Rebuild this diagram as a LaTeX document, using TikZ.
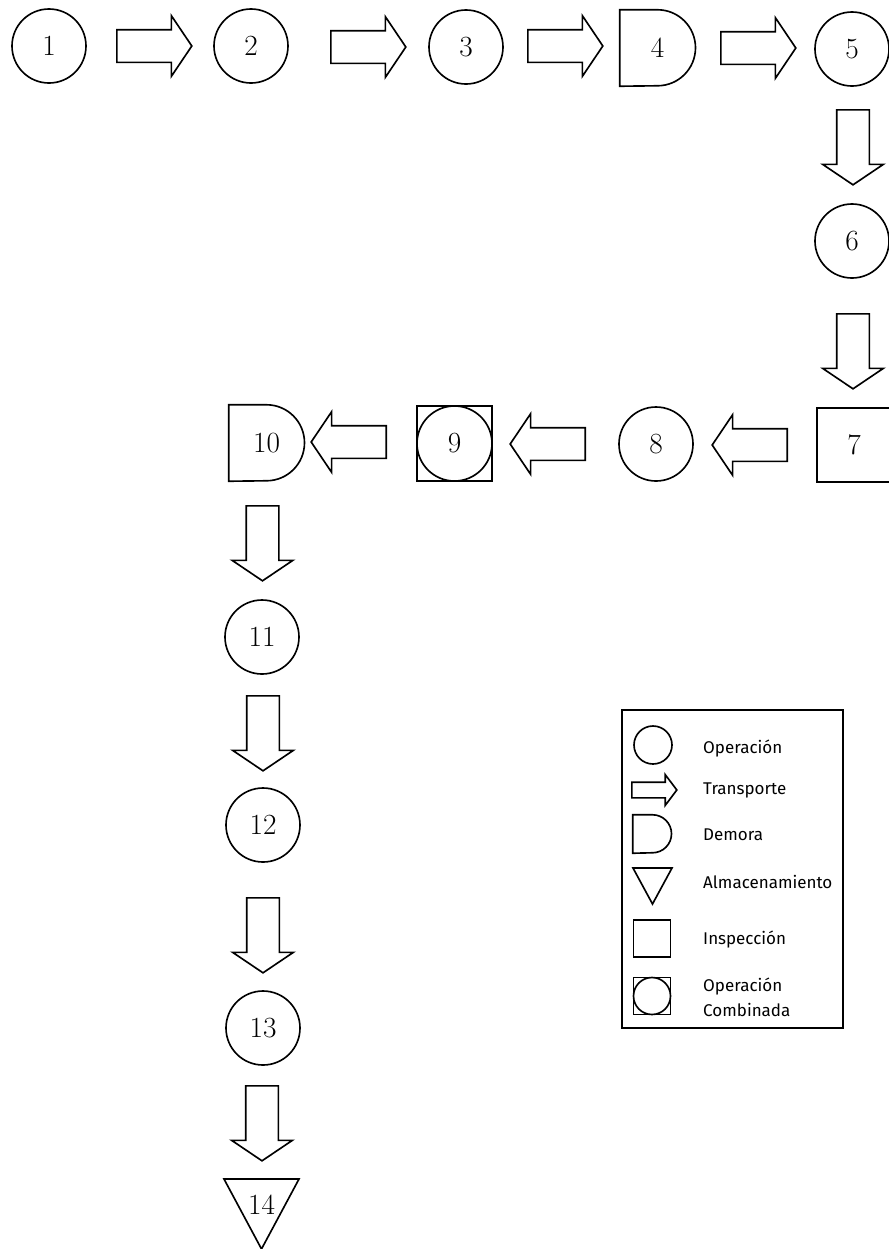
\documentclass[tikz,border=0pt]{standalone}
\usepackage{fontspec}
\newfontfamily\legfont{Fira Sans}
\usetikzlibrary{shapes.arrows,calc}
\newcommand{\pxu}{0.03cm}
\tikzstyle{base} = [draw, line width=1.4pt, inner sep=0pt, font=\fontsize{25}{27}\selectfont]
\tikzstyle{oper} = [base, circle, minimum size=74*\pxu]
\tikzstyle{insp} = [base, rectangle, minimum size=74*\pxu]
\tikzstyle{dbox} = [inner sep=0pt, minimum width=75*\pxu, minimum height=76*\pxu, font=\fontsize{25}{27}\selectfont]
\tikzstyle{transp} = [draw, line width=1.4pt, single arrow, anchor=tail, inner xsep=0pt, inner ysep=15.5*\pxu,
  single arrow head extend=14*\pxu, single arrow tip angle=112,
  minimum height=75*\pxu]
\tikzstyle{legtext} = [anchor=west, align=left, inner sep=0pt, font=\legfont\fontsize{14.5}{21}\selectfont]
% D shape (demora) drawn round a named node
\newcommand{\demora}[2]{\draw[line width=1.4pt] (#1.south west) -- (#1.north west) -- (#1.north)
  arc[start angle=90, end angle=-90, radius=#2] -- cycle;}

\begin{document}
\begin{tikzpicture}[x=0.03cm, y=0.03cm]
    \useasboundingbox (0,0) rectangle (888,-1249);
    % Top row
    \node[oper] (n1) at (49,-46) {1};
    \node[transp] (t1) at (116,-46) {};
    \node[oper] (n2) at (251,-46) {2};
    \node[transp] (t2) at (330,-47) {};
    \node[oper] (n3) at (466,-47) {3};
    \node[transp] (t3) at (527,-46) {};
    \node[dbox] (n4) at (657.5,-48) {4};
    \demora{n4}{38}
    \node[transp] (t4) at (720,-48) {};
    \node[oper] (n5) at (852,-49) {5};
    % Right column
    \node[transp, rotate=-90] (t5) at (853,-109) {};
    \node[oper] (n6) at (852,-241) {6};
    \node[transp, rotate=-90] (t6) at (853,-313) {};
    \node[insp] (n7) at (854,-445) {7};
    % Middle row, right to left
    \node[transp, rotate=180] (t7) at (788,-445) {};
    \node[oper] (n8) at (656,-444) {8};
    \node[transp, rotate=180] (t8) at (586,-444) {};
    \node[insp, minimum size=75*\pxu] (n9) at (454.5,-443.5) {9};
    \draw[line width=1.4pt] (n9) circle[radius=37.5];
    \node[transp, rotate=180] (t9) at (387,-442) {};
    \node[dbox] (n10) at (266.5,-443) {10};
    \demora{n10}{38}
    % Left column
    \node[transp, rotate=-90] (t10) at (262.5,-505) {};
    \node[oper] (n11) at (262,-637) {11};
    \node[transp, rotate=-90] (t11) at (263,-695) {};
    \node[oper] (n12) at (263,-825) {12};
    \node[transp, rotate=-90] (t12) at (263,-897) {};
    \node[oper] (n13) at (263,-1028) {13};
    \node[transp, rotate=-90] (t13) at (262,-1085) {};
    \node[inner sep=0pt, font=\fontsize{25}{27}\selectfont] (n14) at (261.5,-1205) {14};
    \draw[line width=1.4pt] ([shift={(-37.5,26)}]n14.center) -- ([shift={(37.5,26)}]n14.center)
      -- ([shift={(0,-44)}]n14.center) -- cycle;

    % Legend
    \draw[line width=1.1pt] (622,-710) rectangle (843,-1028);
    \node[oper, minimum size=38*\pxu] (lop) at (653,-745) {};
    \node[transp, minimum height=45*\pxu, inner ysep=7*\pxu,
      single arrow head extend=7.5*\pxu, single arrow tip angle=106] (ltr) at (631,-790) {};
    \node[dbox, minimum width=39*\pxu, minimum height=38*\pxu] (lde) at (652.5,-834) {};
    \demora{lde}{19}
    \coordinate (lal) at (652.5,-886);
    \draw[line width=1.4pt] ([shift={(-19.5,18)}]lal) -- ([shift={(19.5,18)}]lal)
      -- ([shift={(0,-18)}]lal) -- cycle;
    \node[insp, minimum size=37*\pxu] (lin) at (652,-938.5) {};
    \node[insp, minimum size=37*\pxu] (lco) at (652,-996) {};
    \draw[line width=1.4pt] (lco) circle[radius=18.5];
    \node[legtext] (txop) at (703,-748) {Operación};
    \node[legtext] (txtr) at (703,-790) {Transporte};
    \node[legtext] (txde) at (703,-835) {Demora};
    \node[legtext] (txal) at (703,-882) {Almacenamiento};
    \node[legtext] (txin) at (703,-939) {Inspección};
    \node[legtext] (txco) at (703,-997) {Operación\\Combinada};
\end{tikzpicture}
\end{document}
